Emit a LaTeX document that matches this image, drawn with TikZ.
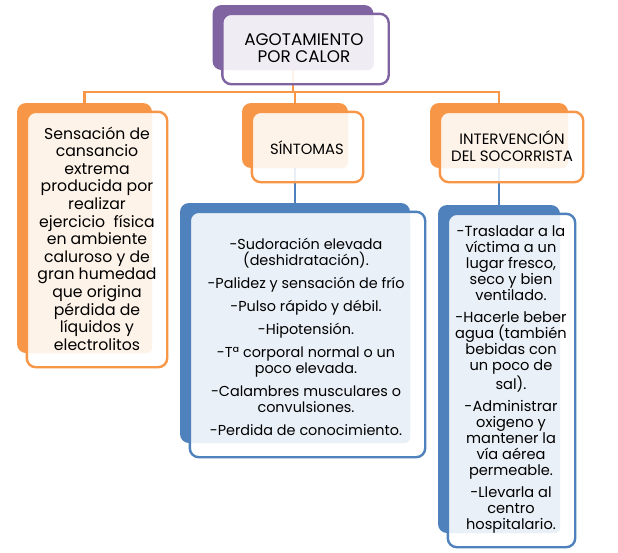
\documentclass[tikz,border=0pt]{standalone}
\usepackage{fontspec}
\setmainfont{Poppins}
\usepackage{tikz}
\usetikzlibrary{calc,positioning}
\definecolor{orng}{RGB}{247,150,70}
\definecolor{purp}{RGB}{128,100,162}
\definecolor{blu}{RGB}{79,129,189}

\begin{document}
\begin{tikzpicture}[x=1pt,y=-1pt,
    sombra/.style={fill=#1, rounded corners=9, inner sep=0},
    frente/.style={draw=#1, fill=white, fill opacity=.88, line width=2.4, rounded corners=9},
    linea/.style={draw=#1, line width=2.4},
    texto/.style={align=center, inner sep=0, font=\fontsize{14.4}{16}\selectfont}]
    \useasboundingbox[fill=white] (0,0) rectangle (618,552);
    % sombras
    \node[sombra=purp, minimum width=161, minimum height=65] (sTit) at (293,37.5) {};
    \node[sombra=orng, minimum width=135, minimum height=250] (sDef) at (84.5,228) {};
    \node[sombra=orng, minimum width=106, minimum height=65] (sSin) at (295,135.5) {};
    \node[sombra=orng, minimum width=138, minimum height=65] (sInt) at (499,135.5) {};
    \node[sombra=blu, minimum width=230, minimum height=240] (sLSin) at (295,323) {};
    \node[sombra=blu, minimum width=122, minimum height=328] (sLInt) at (499,369) {};
    % conectores
    \foreach \b in {sDef,sSin,sInt}
        \draw[linea=orng] (sTit.south) -- ++(0,22) -| (\b.north);
    \draw[linea=blu] (sSin.south) -- (sLSin.north);
    \draw[linea=blu] (sInt.south) -- (sLInt.north);
    % cajas
    \foreach \s/\c in {sTit/purp,sDef/orng,sSin/orng,sInt/orng,sLSin/blu,sLInt/blu} {
        \draw[frente=\c] ($(\s.north west)+(10,9)$) rectangle ($(\s.south east)+(15,14)$);
        \fill[\c!12, rounded corners=6] ($(\s.north west)+(13,12)$) rectangle (\s.south east);
    }
    % textos
    \node[texto, font=\fontsize{16.8}{17}\selectfont] (tit) at (304,48) {AGOTAMIENTO\\POR CALOR};
    \node[texto, font=\fontsize{15.7}{17.6}\selectfont] (def) at (97,238.5) {Sensación de\\cansancio\\extrema\\producida por\\realizar\\ejercicio\ \ física\\en ambiente\\caluroso y de\\gran humedad\\que origina\\pérdida de\\líquidos y\\electrolitos};
    \node[texto, font=\fontsize{14.8}{17}\selectfont] (sin) at (307,147.5) {SÍNTOMAS};
    \node[texto, font=\fontsize{15}{17}\selectfont] (int) at (512,146.5) {INTERVENCIÓN\\DEL SOCORRISTA};
    \node[texto] (lsin) at (306,336.5) {-Sudoración elevada\\(deshidratación).\\[7pt]-Palidez y sensación de frío\\[7pt]-Pulso rápido y débil.\\[7pt]-Hipotensión.\\[7pt]-Tª corporal normal o un\\poco elevada.\\[7pt]-Calambres musculares o\\convulsiones.\\[7pt]-Perdida de conocimiento.};
    \node[texto, font=\fontsize{14.6}{16}\selectfont] (lint) at (511,379.5) {-Trasladar a la\\víctima a un\\lugar fresco,\\seco y bien\\ventilado.\\[6pt]-Hacerle beber\\agua (también\\bebidas con\\un poco de\\sal).\\[6pt]-Administrar\\oxigeno y\\mantener la\\vía aérea\\permeable.\\[6pt]-Llevarla al\\centro\\hospitalario.};
\end{tikzpicture}
\end{document}
